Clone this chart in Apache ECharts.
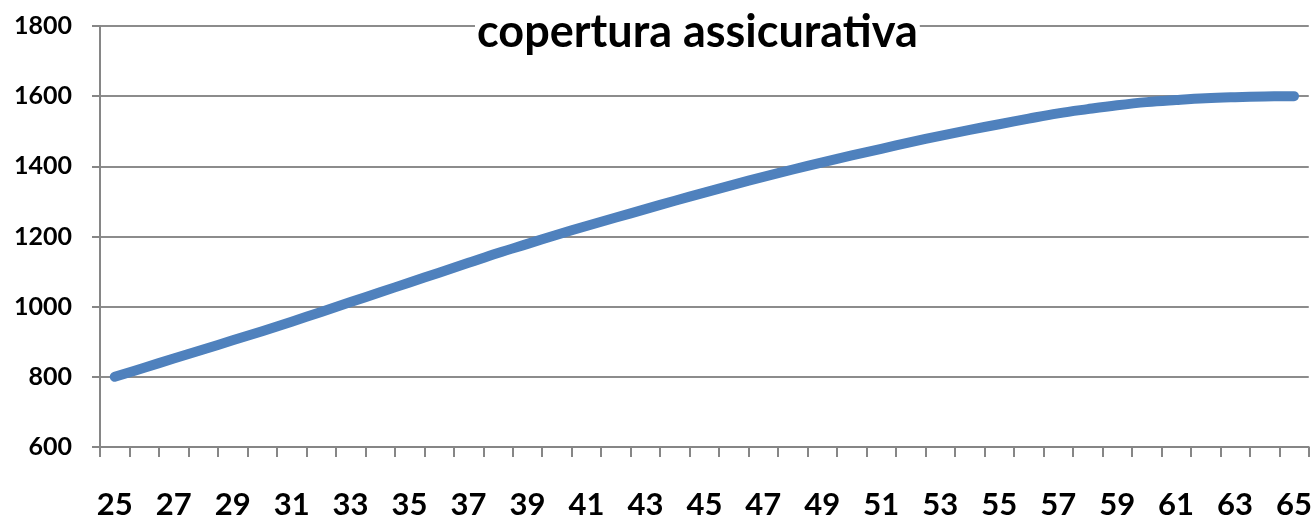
<!DOCTYPE html>
<html>
<head>
<meta charset="utf-8">
<script src="https://cdn.jsdelivr.net/npm/echarts@6/dist/echarts.min.js"></script>
<style>html,body{margin:0;padding:0;background:#fff}#c{width:1315px;height:520px}</style>
</head>
<body>
<div id="c"></div>
<script>
const titleText = "copertura assicurativa";
const ages = [25,26,27,28,29,30,31,32,33,34,35,36,37,38,39,40,41,42,43,44,45,46,47,48,49,50,51,52,53,54,55,56,57,58,59,60,61,62,63,64,65];
const coverage = [800,826,852,878,904,930,957,985,1013,1041,1069,1097,1125,1153,1179,1205,1230,1254,1278,1302,1325,1348,1370,1391,1411,1431,1450,1469,1487,1504,1520,1536,1551,1563,1574,1583,1589,1594,1597,1599,1600];
const yMin = 600, yMax = 1800, yStep = 200;

const chart = echarts.init(document.getElementById('c'), null, {renderer: 'canvas'});
chart.setOption({
  animation: false,
  backgroundColor: '#ffffff',
  title: {
    text: titleText,
    left: 475, top: 10,
    padding: [0, 2],
    backgroundColor: '#ffffff',
    textStyle: {fontFamily: 'Lato', fontWeight: 'bold', fontSize: 45, color: '#000'}
  },
  grid: {left: 100, right: 6, top: 26, bottom: 73, containLabel: false},
  xAxis: {
    type: 'category',
    data: ages.map(String),
    boundaryGap: true,
    axisLine: {lineStyle: {color: '#868686', width: 2}},
    axisTick: {show: true, interval: 0, length: 10, lineStyle: {color: '#868686', width: 2}},
    axisLabel: {interval: 1, margin: 42, fontFamily: 'Lato', fontWeight: 'bold', fontSize: 31, color: '#000'},
    splitLine: {show: false}
  },
  yAxis: {
    type: 'value',
    min: yMin, max: yMax, interval: yStep,
    axisLine: {show: true, lineStyle: {color: '#868686', width: 2}},
    axisTick: {show: true, length: 8, lineStyle: {color: '#868686', width: 2}},
    axisLabel: {margin: 28, fontFamily: 'Lato', fontWeight: 'bold', fontSize: 25, color: '#000', formatter: v => String(v)},
    splitLine: {show: true, lineStyle: {color: '#8c8c8c', width: 2}}
  },
  series: [{
    type: 'line',
    data: coverage,
    smooth: 0.4,
    symbol: 'none',
    z: 1,
    lineStyle: {color: '#4F81BD', width: 10, cap: 'round', join: 'round'}
  }]
});
</script>
</body>
</html>
